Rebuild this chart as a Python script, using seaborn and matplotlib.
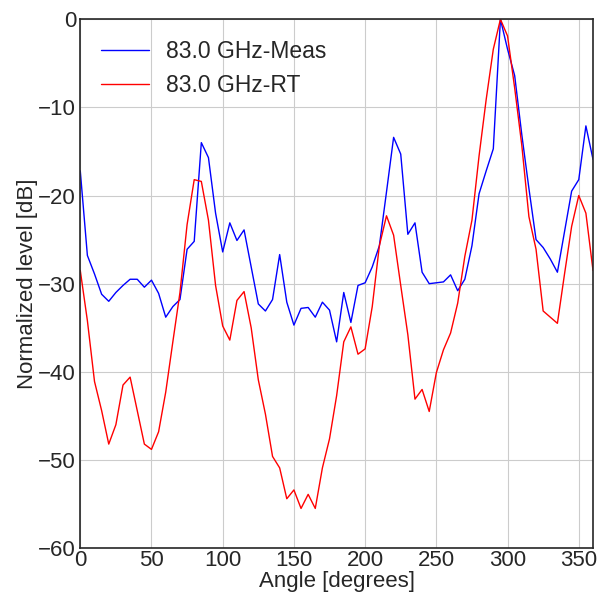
import numpy as np
import pandas as pd
import matplotlib
matplotlib.use("Agg")
import matplotlib.pyplot as plt
import seaborn as sns

# --- dados (passo de 5 graus) ---
angulos = list(range(0, 361, 5))

medido = [
    -17.2, -26.8, -28.9, -31.2, -32.0, -31.0, -30.2, -29.5, -29.5, -30.4,
    -29.6, -31.1, -33.8, -32.6, -31.8, -26.1, -25.2, -14.0, -15.7, -22.0,
    -26.4, -23.1, -25.1, -23.9, -28.1, -32.3, -33.1, -31.8, -26.7, -32.1,
    -34.7, -32.8, -32.7, -33.8, -32.1, -33.0, -36.6, -31.0, -34.4, -30.2,
    -29.9, -28.1, -25.7, -19.6, -13.4, -15.3, -24.4, -23.1, -28.7, -30.0,
    -29.9, -29.8, -29.0, -30.8, -29.5, -25.7, -19.8, -17.2, -14.7, 0.0,
    -3.4, -6.4, -13.1, -19.2, -25.0, -25.9, -27.2, -28.7, -24.1, -19.5,
    -18.2, -12.1, -15.9,
]

ray_tracing = [
    -28.5, -34.2, -41.1, -44.4, -48.2, -46.0, -41.5, -40.6, -44.4, -48.2,
    -48.8, -46.8, -42.3, -36.6, -31.0, -23.3, -18.2, -18.4, -22.8, -30.2,
    -34.8, -36.4, -31.9, -30.9, -35.0, -40.9, -44.8, -49.6, -50.9, -54.4,
    -53.4, -55.5, -53.9, -55.5, -50.9, -47.6, -42.7, -36.6, -34.9, -38.0,
    -37.4, -32.6, -25.7, -22.3, -24.5, -30.2, -35.8, -43.1, -42.0, -44.5,
    -40.1, -37.5, -35.6, -32.2, -26.9, -22.8, -15.5, -9.1, -3.4, 0.0,
    -1.9, -7.8, -14.3, -22.4, -26.1, -33.1, -33.8, -34.5, -28.9, -23.5,
    -20.0, -22.0, -28.5,
]

series = ['83.0 GHz-Meas', '83.0 GHz-RT']
cores = {'83.0 GHz-Meas': 'blue', '83.0 GHz-RT': 'red'}

df = pd.concat([
    pd.DataFrame({'angulo': angulos, 'nivel': medido, 'serie': series[0]}),
    pd.DataFrame({'angulo': angulos, 'nivel': ray_tracing, 'serie': series[1]}),
])

sns.set_style('whitegrid', {'axes.edgecolor': '0.15', 'grid.color': '0.8'})
plt.rcParams['font.family'] = ['Liberation Sans', 'DejaVu Sans']

fig, ax = plt.subplots(figsize=(5.99, 6.01), dpi=100)
sns.lineplot(data=df, x='angulo', y='nivel', hue='serie', hue_order=series,
             palette=cores, linewidth=1, ax=ax)

ax.set_xlim(0, 360)
ax.set_ylim(-60, 0)
ax.set_xticks(range(0, 351, 50))
ax.set_yticks(range(-60, 1, 10))
ax.tick_params(axis='x', labelsize=16, length=0, pad=1)
ax.tick_params(axis='y', labelsize=16, length=0, pad=3)
ax.set_xlabel('Angle [degrees]', fontsize=16, labelpad=0)
ax.set_ylabel('Normalized level [dB]', fontsize=16, labelpad=0)
for s in ax.spines.values():
    s.set_linewidth(1.2)

leg = ax.legend(loc='upper left', frameon=False, fontsize=16.5,
                handlelength=2.1, handletextpad=0.75)

fig.subplots_adjust(left=0.134, right=0.99, top=0.968, bottom=0.088)
fig.savefig('out.png', dpi=100)
